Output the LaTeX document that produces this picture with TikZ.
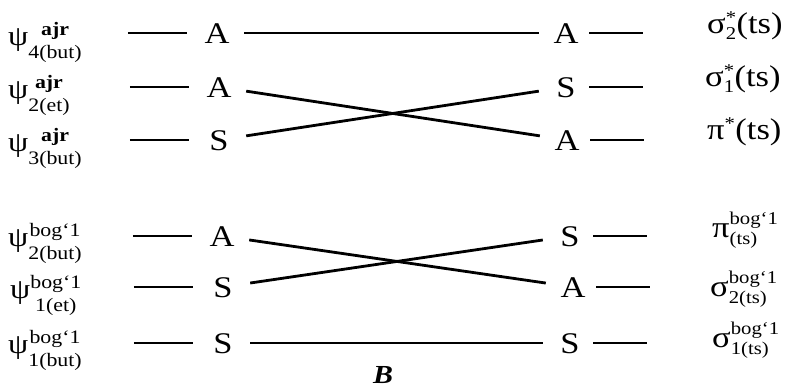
\documentclass[tikz,border=0pt]{standalone}
\usepackage{amsmath}
\usepackage{fontspec}
\setmainfont{Liberation Serif}[FakeStretch=1.15]
\usetikzlibrary{positioning}
% stacked upper/lower index, centred
\newcommand{\stk}[2]{\raisebox{-1.5pt}{\fontsize{19}{23}\selectfont\begin{tabular}[c]{@{}c@{}}#1\\#2\end{tabular}}}
% small index text for the right column
\newcommand{\sx}[1]{\text{\fontsize{18}{18}\selectfont #1}}

\begin{document}
\begin{tikzpicture}[x=1pt,y=-1pt, every node/.style={inner sep=0pt},
 sym/.style={font=\fontsize{30}{30}\selectfont,minimum width=54pt,text height=20pt,text depth=0pt},
 lab/.style={anchor=base west,font=\fontsize{28}{28}\selectfont},
 rlab/.style={anchor=base west,font=\fontsize{30}{30}\selectfont},
 lvl/.style={line width=2.8pt},
 link/.style={line width=2.8pt}]
\useasboundingbox (0,0) rectangle (786,388);
% left column (butadiene + ethylene)
\node[lab] (psi4) at (8,45) {ψ\stk{\textbf{ajr}}{4(but)}};
\node[lab] (psi2e) at (8,98) {ψ\stk{\textbf{ajr}}{2(et)}};
\node[lab] (psi3) at (8,151) {ψ\stk{\textbf{ajr}}{3(but)}};
\node[lab] (psi2) at (8,246) {ψ\stk{bog‘1}{2(but)}};
\node[lab] (psi1e) at (10,298) {ψ\stk{bog‘1}{1(et)}};
\node[lab] (psi1) at (8,353) {ψ\stk{bog‘1}{1(but)}};
% symmetry of the reactant levels
\node[sym] (la1) at (217,33) {A};
\node[sym] (la2) at (219,87) {A};
\node[sym] (la3) at (219,140) {S};
\node[sym] (la4) at (222,236) {A};
\node[sym] (la5) at (223,287) {S};
\node[sym] (la6) at (223,343) {S};
% symmetry of the transition state levels
\node[sym] (ra1) at (566,33) {A};
\node[sym] (ra2) at (566,87) {S};
\node[sym] (ra3) at (567,140) {A};
\node[sym] (ra4) at (570,236) {S};
\node[sym] (ra5) at (573,287) {A};
\node[sym] (ra6) at (570,343) {S};
% right column (transition state)
\node[rlab] (sig2s) at (707,33) {σ$^{\sx{*}}_{\sx{2}}$(ts)};
\node[rlab] (sig1s) at (705,86) {σ$^{\sx{*}}_{\sx{1}}$(ts)};
\node[rlab] (pis) at (707,139) {π$^{\sx{*}}$(ts)};
\node[rlab] (pib) at (712,237) {π$^{\sx{bog‘1}}_{\sx{(ts)}}$};
\node[rlab] (sig2b) at (710,296) {σ$^{\sx{bog‘1}}_{\sx{2(ts)}}$};
\node[rlab] (sig1b) at (712,347) {σ$^{\sx{bog‘1}}_{\sx{1(ts)}}$};
\node[font=\fontsize{26}{26}\selectfont\bfseries\itshape] (B) at (383,375) {B};
% level marks
\foreach \n in {la1,la2,la3,la4,la5,la6}
  \draw[lvl] ([xshift=-62pt]\n.west) -- ([xshift=-3pt]\n.west);
\foreach \n in {ra1,ra2,ra3,ra4,ra5,ra6}
  \draw[lvl] ([xshift=-4pt]\n.east) -- ([xshift=50pt]\n.east);
% correlation lines
\draw[link] (la1) -- (ra1);
\draw[link] (la2) -- (ra3); \draw[link] (la3) -- (ra2);
\draw[link] (la4) -- (ra5); \draw[link] (la5) -- (ra4);
\draw[link] (la6) -- (ra6);
\end{tikzpicture}
\end{document}
